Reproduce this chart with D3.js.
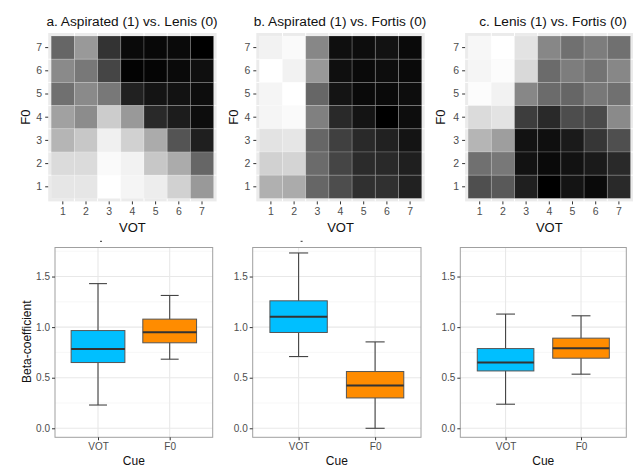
<!DOCTYPE html>
<html><head><meta charset="utf-8">
<script src="https://cdn.jsdelivr.net/npm/d3@7"></script>
<style>body{margin:0;background:#fff}svg{display:block;font-family:"Liberation Sans",Arial,sans-serif}</style>
</head><body>
<script>
// ---------- DATA ----------
const titles = ["a. Aspirated (1) vs. Lenis (0)", "b. Aspirated (1) vs. Fortis (0)", "c. Lenis (1) vs. Fortis (0)"];
const votLevels = [1,2,3,4,5,6,7];
const f0Levels = [1,2,3,4,5,6,7];
// predicted probability (0 = white, 1 = black); rows F0 = 7 .. 1, columns VOT = 1 .. 7
const heatA = [
  [0.60,0.40,0.80,0.96,0.97,0.96,1.00],
  [0.46,0.53,0.73,0.99,0.98,0.96,0.94],
  [0.56,0.46,0.53,0.87,0.92,0.93,0.95],
  [0.37,0.45,0.20,0.40,0.84,0.89,0.95],
  [0.29,0.22,0.06,0.18,0.33,0.67,0.88],
  [0.14,0.14,0.02,0.05,0.22,0.33,0.60],
  [0.10,0.10,0.00,0.04,0.07,0.18,0.40]
];
const heatB = [
  [0.05,0.02,0.47,0.94,0.95,0.93,0.96],
  [0.00,0.05,0.40,0.94,0.96,0.95,0.96],
  [0.04,0.00,0.60,0.92,0.96,0.96,0.95],
  [0.04,0.02,0.50,0.84,0.92,1.00,0.95],
  [0.11,0.10,0.60,0.75,0.84,0.87,0.92],
  [0.18,0.17,0.58,0.73,0.83,0.84,0.88],
  [0.31,0.33,0.60,0.70,0.81,0.81,0.87]
];
const heatC = [
  [0.03,0.00,0.11,0.47,0.56,0.51,0.56],
  [0.04,0.01,0.15,0.58,0.51,0.55,0.47],
  [0.01,0.05,0.47,0.58,0.60,0.53,0.56],
  [0.14,0.11,0.76,0.84,0.70,0.71,0.46],
  [0.29,0.38,0.93,0.94,0.90,0.79,0.69],
  [0.56,0.53,0.93,0.96,0.93,0.90,0.84],
  [0.69,0.65,0.88,1.00,0.92,0.96,0.84]
];
const cues = ["VOT","F0"];
// box stats per panel: [whiskerLow, q1, median, q3, whiskerHigh]
const boxA = { VOT:[0.23,0.65,0.785,0.966,1.43], F0:[0.683,0.845,0.95,1.079,1.313] };
const boxB = { VOT:[0.709,0.947,1.102,1.26,1.733], F0:[0.0,0.30,0.422,0.561,0.854] };
const boxC = { VOT:[0.238,0.567,0.65,0.788,1.129], F0:[0.535,0.693,0.792,0.891,1.112] };
const yTicks = [0,0.5,1.0,1.5];
const yMinor = [0.25,0.75,1.25,1.75];
const cueColors = { VOT:"#00BFFF", F0:"#FF8C00" };

// ---------- LAYOUT ----------
const W = 633, H = 466;
const svg = d3.select("body").append("svg").attr("width",W).attr("height",H);
const heats = [heatA, heatB, heatC];
const boxes = [boxA, boxB, boxC];
const heatX0 = [51.2, 259.3, 468.1];
const heatSize = 162.4, heatY0 = 36;
const titleCx = [132, 340, 553];
const f0TitleX = [25, 233.3, 440.3];
const boxX0 = [55, 252.7, 460.3], boxX1 = [212.7, 421, 626.3];
const boxTop = 247.5, boxBottom = 437.3;
const tickCol = "#4D4D4D";
const FONT = "Liberation Sans, Arial, sans-serif";

const grey = d3.scaleLinear().domain([0,1]).range(["#ffffff","#000000"]);

heats.forEach((data, p) => {
  const g = svg.append("g");
  const x = d3.scaleBand().domain(votLevels).range([heatX0[p], heatX0[p]+heatSize]);
  const y = d3.scaleBand().domain(f0Levels).range([heatY0+heatSize, heatY0]);
  const pad = 3;
  g.append("rect").attr("x",heatX0[p]-pad).attr("y",heatY0-pad)
    .attr("width",heatSize+2*pad).attr("height",heatSize+2*pad).attr("fill","#EBEBEB");
  const bounds = votLevels.slice(1).map(v => x(v));
  g.selectAll("line.gx").data(bounds).join("line")
    .attr("x1",d=>d).attr("x2",d=>d).attr("y1",heatY0-pad).attr("y2",heatY0+heatSize+pad)
    .attr("stroke","#fff").attr("stroke-width",1);
  const ybd = f0Levels.slice(1).map(v => y(v)+y.bandwidth());
  g.selectAll("line.gy").data(ybd).join("line")
    .attr("y1",d=>d).attr("y2",d=>d).attr("x1",heatX0[p]-pad).attr("x2",heatX0[p]+heatSize+pad)
    .attr("stroke","#fff").attr("stroke-width",1);
  const cells = [];
  data.forEach((row, ri) => row.forEach((v, ci) => cells.push({vot:votLevels[ci], f0:f0Levels[f0Levels.length-1-ri], v})));
  g.selectAll("rect.tile").data(cells).join("rect")
    .attr("x",d=>x(d.vot)).attr("y",d=>y(d.f0))
    .attr("width",x.bandwidth()).attr("height",y.bandwidth())
    .attr("fill",d=>grey(d.v))
    .attr("stroke","#ffffff").attr("stroke-opacity",0.22).attr("stroke-width",0.8);
  const xa = g.append("g").attr("transform",`translate(0,${heatY0+heatSize+pad})`)
    .call(d3.axisBottom(x).tickSize(3).tickPadding(3));
  const ya = g.append("g").attr("transform",`translate(${heatX0[p]-pad},0)`)
    .call(d3.axisLeft(y).tickSize(3).tickPadding(3));
  [xa,ya].forEach(a => {
    a.attr("font-size",null).attr("font-family",null);
    a.select(".domain").remove();
    a.selectAll(".tick line").attr("stroke","#333").attr("stroke-width",1);
    a.selectAll(".tick text").attr("fill",tickCol).style("font-size","10.5px").style("font-family",FONT);
  });
  g.append("text").attr("x",titleCx[p]).attr("y",25.5).attr("text-anchor","middle")
    .attr("font-size",13.7).attr("fill","#111").text(titles[p]);
  g.append("text").attr("x",heatX0[p]+heatSize/2).attr("y",231.5).attr("text-anchor","middle")
    .attr("font-size",13).attr("fill","#111").text("VOT");
  g.append("text").attr("transform",`translate(${f0TitleX[p]+4.5},${heatY0+heatSize/2}) rotate(-90)`)
    .attr("text-anchor","middle").attr("font-size",13).attr("fill","#111").text("F0");
});

// ---------- BOXPLOTS ----------
const yb = d3.scaleLinear().domain([-0.089, 1.787]).range([boxBottom, boxTop]);
boxes.forEach((stats, p) => {
  const g = svg.append("g");
  const x = d3.scalePoint().domain(cues).range([boxX0[p], boxX1[p]]).padding(0.6);
  const step = x.step();
  const bw = 0.75*step, cw = 0.25*step;
  g.append("rect").attr("x",boxX0[p]).attr("y",boxTop).attr("width",boxX1[p]-boxX0[p])
    .attr("height",boxBottom-boxTop).attr("fill","#fff");
  g.selectAll("line.minor").data(yMinor).join("line")
    .attr("x1",boxX0[p]).attr("x2",boxX1[p]).attr("y1",d=>yb(d)).attr("y2",d=>yb(d))
    .attr("stroke","#F2F2F2").attr("stroke-width",0.6);
  g.selectAll("line.major").data(yTicks).join("line")
    .attr("x1",boxX0[p]).attr("x2",boxX1[p]).attr("y1",d=>yb(d)).attr("y2",d=>yb(d))
    .attr("stroke","#E8E8E8").attr("stroke-width",1.1);
  g.selectAll("line.vmajor").data(cues).join("line")
    .attr("x1",d=>x(d)).attr("x2",d=>x(d)).attr("y1",boxTop).attr("y2",boxBottom)
    .attr("stroke","#E8E8E8").attr("stroke-width",1.1);
  cues.forEach(c => {
    const s = stats[c], cx = x(c);
    g.append("line").attr("x1",cx).attr("x2",cx).attr("y1",yb(s[0])).attr("y2",yb(s[4]))
      .attr("stroke","#444").attr("stroke-width",1.1);
    [s[0], s[4]].forEach(v => g.append("line").attr("x1",cx-cw/2).attr("x2",cx+cw/2)
      .attr("y1",yb(v)).attr("y2",yb(v)).attr("stroke","#444").attr("stroke-width",1.1));
    g.append("rect").attr("x",cx-bw/2).attr("y",yb(s[3])).attr("width",bw)
      .attr("height",yb(s[1])-yb(s[3])).attr("fill",cueColors[c])
      .attr("stroke","#555").attr("stroke-width",1);
    g.append("line").attr("x1",cx-bw/2).attr("x2",cx+bw/2).attr("y1",yb(s[2])).attr("y2",yb(s[2]))
      .attr("stroke","#333").attr("stroke-width",2);
  });
  g.append("rect").attr("x",boxX0[p]).attr("y",boxTop).attr("width",boxX1[p]-boxX0[p])
    .attr("height",boxBottom-boxTop).attr("fill","none").attr("stroke","#A0A0A0").attr("stroke-width",1);
  const ya = g.append("g").attr("transform",`translate(${boxX0[p]},0)`)
    .call(d3.axisLeft(yb).tickValues(yTicks).tickFormat(d3.format(".1f")).tickSize(3).tickPadding(2));
  const xa = g.append("g").attr("transform",`translate(0,${boxBottom})`)
    .call(d3.axisBottom(x).tickSize(3).tickPadding(3));
  [xa,ya].forEach(a => {
    a.attr("font-size",null).attr("font-family",null);
    a.select(".domain").remove();
    a.selectAll(".tick line").attr("stroke","#333");
    a.selectAll(".tick text").attr("fill",tickCol).style("font-size","10px").style("font-family",FONT);
  });
  g.append("text").attr("x",(boxX0[p]+boxX1[p])/2).attr("y",464.5).attr("text-anchor","middle")
    .attr("font-size",12).attr("fill","#111").text("Cue");
  if (p < 2) g.append("rect").attr("x",x("VOT")+2).attr("y",240.8).attr("width",2).attr("height",1).attr("fill","#333");
});
svg.append("text").attr("transform",`translate(31,341.7) rotate(-90)`)
  .attr("text-anchor","middle").attr("font-size",12).attr("fill","#111").text("Beta-coefficient");
</script>
</body></html>
